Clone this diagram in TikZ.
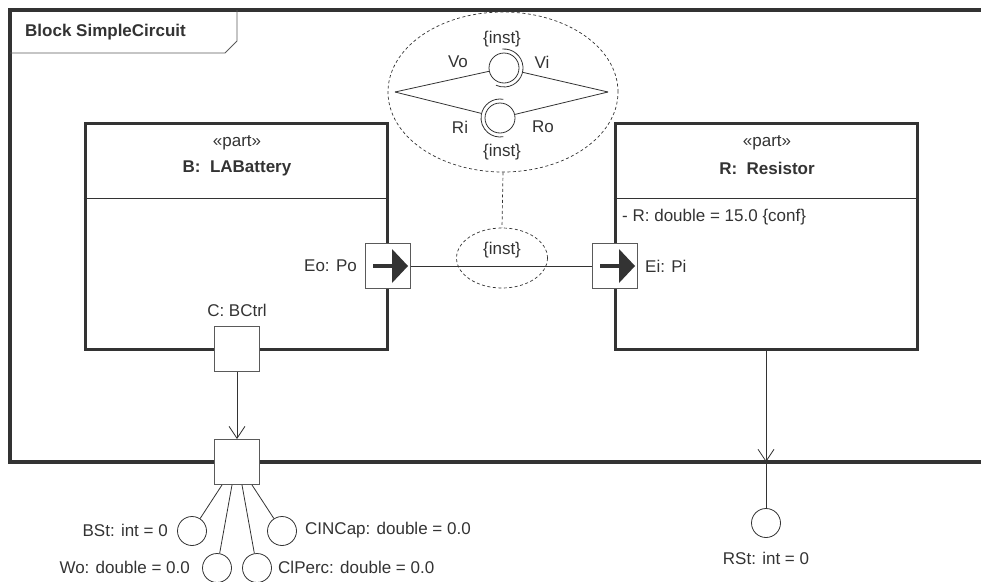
\documentclass[tikz,border=0pt]{standalone}
\usepackage{fontspec}
\setmainfont{Liberation Sans}
\usetikzlibrary{arrows.meta,shapes.geometric}
\definecolor{ink}{HTML}{333333}
\definecolor{pgray}{HTML}{5A5A5A}
\tikzset{
  thickframe/.style={draw=ink, line width=3.5pt},
  partbox/.style={draw=ink, line width=3pt, minimum width=302pt, minimum height=226pt, inner sep=0pt},
  portbox/.style={draw=pgray, line width=0.9pt, fill=white, minimum width=45pt, minimum height=45pt, inner sep=0pt},
  thinline/.style={draw=ink, line width=0.8pt},
  dashline/.style={draw=ink, line width=0.7pt, dash pattern=on 3pt off 2.5pt},
  vtip/.style={-{Straight Barb[length=12pt,width=16pt,line width=0.8pt]}},
  valcircle/.style={circle, draw=ink, line width=0.8pt, minimum size=29pt, inner sep=0pt},
  ballnode/.style={circle, draw=ink, line width=0.8pt, minimum size=30pt, inner sep=0pt},
  socknode/.style={circle, minimum size=38pt, inner sep=0pt},
  portarrow/.pic={
    \draw[ink, line width=4pt] (-15,0) -- (6,0);
    \fill[ink] (4,-17) -- (20,0) -- (4,17) -- cycle;
  }
}
\begin{document}
\begin{tikzpicture}[x=1pt, y=-1pt, font=\fontsize{17}{20}\selectfont,
  every node/.style={text=ink, inner sep=0pt}]
\useasboundingbox (0,0) rectangle (981,581);
\clip (0,0) rectangle (981,581);

% frame
\draw[thickframe] (995,10) -- (10,10) -- (10,462) -- (995,462);
\draw[draw=pgray, line width=0.9pt] (10,53) -- (225,53) -- (237,41) -- (237,10);
\node[anchor=west, font=\fontsize{17}{20}\selectfont\bfseries] (title) at (25,32) {Block SimpleCircuit};

% parts
\node[partbox] (B) at (236,236) {};
\draw[thinline] (B.west |- 0,198) -- (B.east |- 0,198);
\node (Bst) at (237,143) {«part»};
\node[font=\fontsize{17}{20}\selectfont\bfseries] (Bname) at (237,168) {B:\ \ LABattery};

\node[partbox] (R) at (766,236) {};
\draw[thinline] (R.west |- 0,198) -- (R.east |- 0,198);
\node (Rst) at (767,143) {«part»};
\node[font=\fontsize{17}{20}\selectfont\bfseries] (Rname) at (767,168) {R:\ \ Resistor};
\node[anchor=west] (Rattr) at (622,217) {- R: double = 15.0 \{conf\}};

% interface ellipse
\node[ellipse, dashline, minimum width=230pt, minimum height=160pt] (IF) at (503,92) {};
\coordinate (IFl) at (395,92);
\coordinate (IFr) at (608,92);
\node[ballnode] (ball1) at (504,68) {};
\node[socknode] (sock1) at (504,68) {};
\draw[thinline] (ball1.center) ++(-95:19) arc[start angle=-95, end angle=115, radius=19];
\node[ballnode] (ball2) at (500,118) {};
\node[socknode] (sock2) at (500,118) {};
\draw[thinline] (ball2.center) ++(-80:19) arc[start angle=-80, end angle=-280, radius=19];
\draw[thinline] (IFl) -- (ball1);
\draw[thinline] (IFr) -- (sock1);
\draw[thinline] (IFl) -- (sock2);
\draw[thinline] (IFr) -- (ball2);
\node (inst1) at (502,39) {\{inst\}};
\node (Vo) at (458,62) {Vo};
\node (Vi) at (542,62) {Vi};
\node (Ri) at (460,127) {Ri};
\node (Ro) at (543,127) {Ro};
\node (inst2) at (502,152) {\{inst\}};

% connector
\node[ellipse, dashline, minimum width=91pt, minimum height=60pt] (inst) at (502,258) {};
\draw[dashline] (IF.south) -- (inst.north);

% ports
\node[portbox] (Eo) at (388,266) {};
\pic at (Eo.center) {portarrow};
\node[anchor=east] (Eolab) at (357,266) {Eo: Po};
\node[portbox] (Ei) at (615,266) {};
\pic at (Ei.center) {portarrow};
\node[anchor=west] (Eilab) at (645,266) {Ei: Pi};
\draw[thinline] (Eo.east) -- (Ei.west);
\node (instlab) at (502,250) {\{inst\}};

\node[portbox] (C) at (237,349) {};
\node (Clab) at (237,310) {C: BCtrl};
\node[portbox] (Cout) at (237,462) {};
\draw[thinline, vtip] (C.south) -- (Cout.north);

% value properties
\node[valcircle] (BSt) at (192,531) {};
\node[valcircle] (CINCap) at (282,531) {};
\node[valcircle] (Wo) at (217,568) {};
\node[valcircle] (ClPerc) at (257,568) {};
\draw[thinline] ([xshift=-15pt]Cout.south) -- (BSt);
\draw[thinline] ([xshift=-5pt]Cout.south) -- (Wo);
\draw[thinline] ([xshift=5pt]Cout.south) -- (ClPerc);
\draw[thinline] ([xshift=15pt]Cout.south) -- (CINCap);
\node[anchor=east] (BStlab) at (168,530) {BSt: int = 0};
\node[anchor=west] (CINCaplab) at (305,530) {CINCap: double = 0.0};
\node[anchor=east] (Wolab) at (190,567) {Wo: double = 0.0};
\node[anchor=west] (ClPerclab) at (278,567) {ClPerc: double = 0.0};

% resistor state
\coordinate (Rhit) at (766,462);
\node[valcircle] (RSt) at (766,523) {};
\draw[thinline, vtip] (R.south) -- (Rhit);
\draw[thinline] (Rhit) -- (RSt);
\node (RStlab) at (766,558) {RSt: int = 0};
\end{tikzpicture}
\end{document}
